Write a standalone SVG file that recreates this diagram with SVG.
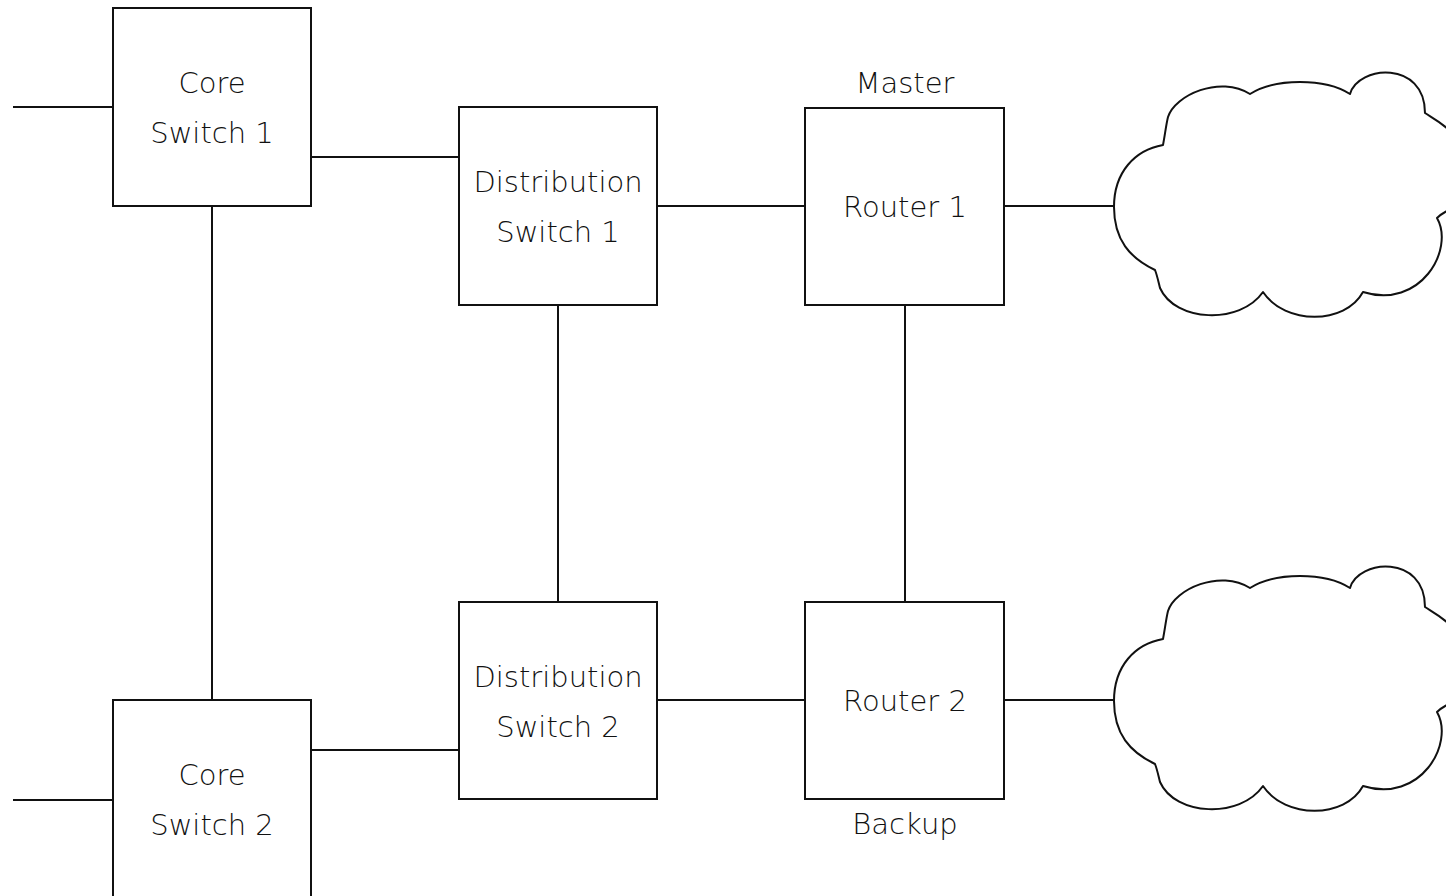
<svg xmlns="http://www.w3.org/2000/svg" width="1446" height="896" viewBox="0 0 1446 896">
<style>
.box{fill:#fff;stroke:#111;stroke-width:2}
.ln{stroke:#111;stroke-width:2;fill:none}
.cl{fill:#fff;stroke:#111;stroke-width:2;stroke-linejoin:round}
text{font-family:"DejaVu Sans","Liberation Sans",sans-serif;font-size:29px;font-weight:200;fill:#111;text-anchor:middle}
</style>
<defs>
<path id="cloud" d="M1114 207 C1114 172 1135 150 1163 145 C1165 135 1166 125 1168 117 C1175 95 1220 75 1250 94 C1275 78 1325 78 1350 94 C1358 65 1425 60 1425 113 C1435 120 1460 130 1475 170 L1475 200 C1460 205 1445 210 1437 218 C1455 250 1420 310 1363 292 C1345 325 1285 325 1263 292 C1240 325 1175 322 1160 288 C1158 280 1157 275 1155 270 C1130 258 1114 240 1114 207 Z"/>
</defs>
<rect width="1446" height="896" fill="#fff"/>
<g id="connectors">
<line class="ln" x1="13" y1="107" x2="113" y2="107"/>
<line class="ln" x1="13" y1="800" x2="113" y2="800"/>
<line class="ln" x1="311" y1="157" x2="459" y2="157"/>
<line class="ln" x1="311" y1="750" x2="459" y2="750"/>
<line class="ln" x1="212" y1="206" x2="212" y2="700"/>
<line class="ln" x1="558" y1="305" x2="558" y2="602"/>
<line class="ln" x1="657" y1="206" x2="805" y2="206"/>
<line class="ln" x1="657" y1="700" x2="805" y2="700"/>
<line class="ln" x1="905" y1="305" x2="905" y2="602"/>
<line class="ln" x1="1004" y1="206" x2="1114" y2="206"/>
<line class="ln" x1="1004" y1="700" x2="1114" y2="700"/>
</g>
<g id="core1">
<rect class="box" x="113" y="8" width="198" height="198"/>
<text x="212" y="93">Core</text>
<text x="212" y="143">Switch 1</text>
</g>
<g id="core2">
<rect class="box" x="113" y="700" width="198" height="220"/>
<text x="212" y="785">Core</text>
<text x="212" y="835">Switch 2</text>
</g>
<g id="dist1">
<rect class="box" x="459" y="107" width="198" height="198"/>
<text x="558" y="192">Distribution</text>
<text x="558" y="242">Switch 1</text>
</g>
<g id="dist2">
<rect class="box" x="459" y="602" width="198" height="197"/>
<text x="558" y="687">Distribution</text>
<text x="558" y="737">Switch 2</text>
</g>
<g id="router1">
<rect class="box" x="805" y="108" width="199" height="197"/>
<text x="905" y="217">Router 1</text>
<text x="905" y="93">Master</text>
</g>
<g id="router2">
<rect class="box" x="805" y="602" width="199" height="197"/>
<text x="905" y="711">Router 2</text>
<text x="905" y="834">Backup</text>
</g>
<g id="cloud1">
<use href="#cloud" class="cl"/>
</g>
<g id="cloud2">
<use href="#cloud" class="cl" transform="translate(0,494)"/>
</g>
</svg>
